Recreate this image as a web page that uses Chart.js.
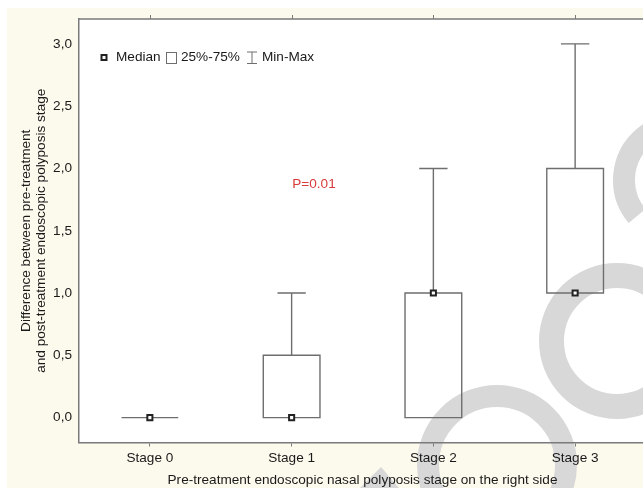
<!DOCTYPE html>
<html>
<head>
<meta charset="utf-8">
<script src="https://cdn.jsdelivr.net/npm/chart.js@4/dist/chart.umd.min.js"></script>
<style>
  html, body { margin: 0; padding: 0; background: #fff; overflow: hidden; }
  #wrap { width: 652px; height: 488px; }
</style>
</head>
<body>
<div id="wrap"><canvas id="chart" width="652" height="488"></canvas></div>
<script>
// ── Data ──
const stageLabels = ["Stage 0", "Stage 1", "Stage 2", "Stage 3"];
const minVals    = [0, 0, 0, 1];
const q1Vals     = [0, 0, 0, 1];
const medianVals = [0, 0, 1, 1];
const q3Vals     = [0, 0.5, 1, 2];
const maxVals    = [0, 1, 2, 3];
const yTicks     = [0, 0.5, 1, 1.5, 2, 2.5, 3];
const pValueText = "P=0.01";

// ── Style ──
const FONT = "'Liberation Sans', Arial, sans-serif";
const FSIZE = 13.6;
const CREAM = "#fcf9ed";
const AXIS = "#7a7a7a";
const BOXLINE = "#6e6e6e";
const TEXT = "#1a1a1a";
const boxHalf = 0.2, capHalf = 0.1;

const boxPlugin = {
  id: "boxes",
  beforeDraw(chart) {
    const { ctx, chartArea: a, width, height } = chart;
    ctx.save();
    ctx.fillStyle = "#fff";
    ctx.fillRect(0, 0, width, height);
    ctx.fillStyle = CREAM;
    ctx.fillRect(7, 8, width - 7, height - 8);
    ctx.fillStyle = "#fff";
    ctx.fillRect(a.left, a.top, a.right - a.left, a.bottom - a.top);

    // watermark shapes (decoration of the source picture)
    ctx.strokeStyle = "#d8d8d8";
    ctx.fillStyle = "#d8d8d8";
    ctx.lineCap = "butt";
    ctx.lineWidth = 25;
    ctx.beginPath(); ctx.arc(617, 341, 65.5, 0, Math.PI * 2); ctx.stroke();
    ctx.lineWidth = 22;
    ctx.beginPath(); ctx.arc(497, 465, 69, 0, Math.PI * 2); ctx.stroke();
    ctx.beginPath(); ctx.arc(680, 180, 56, 140 * Math.PI / 180, 240 * Math.PI / 180); ctx.stroke();
    ctx.beginPath();
    ctx.moveTo(360, 488); ctx.lineTo(381, 467); ctx.lineTo(399, 488); ctx.closePath(); ctx.fill();
    ctx.restore();
  },
  beforeDatasetsDraw(chart) {
    const { ctx, chartArea: a } = chart;
    const xs = chart.scales.x, ys = chart.scales.y;
    ctx.save();
    // top frame with small ticks
    ctx.strokeStyle = AXIS;
    ctx.lineWidth = 1.5;
    ctx.beginPath();
    ctx.moveTo(a.left, a.top); ctx.lineTo(a.right, a.top);
    ctx.stroke();
    ctx.lineWidth = 1;
    stageLabels.forEach((_, i) => {
      const x = Math.round(xs.getPixelForValue(i)) + 0.5;
      ctx.beginPath(); ctx.moveTo(x, a.top); ctx.lineTo(x, a.top - 4); ctx.stroke();
    });

    // boxes and whiskers
    ctx.strokeStyle = BOXLINE;
    ctx.lineWidth = 1.4;
    stageLabels.forEach((_, i) => {
      const cx = xs.getPixelForValue(i);
      const bl = xs.getPixelForValue(i - boxHalf), br = xs.getPixelForValue(i + boxHalf);
      const cl = xs.getPixelForValue(i - capHalf), cr = xs.getPixelForValue(i + capHalf);
      const yMin = ys.getPixelForValue(minVals[i]);
      const yQ1 = ys.getPixelForValue(q1Vals[i]);
      const yQ3 = ys.getPixelForValue(q3Vals[i]);
      const yMax = ys.getPixelForValue(maxVals[i]);
      ctx.beginPath();
      ctx.rect(bl, yQ3, br - bl, yQ1 - yQ3);
      ctx.stroke();
      if (maxVals[i] > q3Vals[i]) {
        ctx.beginPath();
        ctx.moveTo(cx, yQ3); ctx.lineTo(cx, yMax);
        ctx.moveTo(cl, yMax); ctx.lineTo(cr, yMax);
        ctx.stroke();
      }
      if (minVals[i] < q1Vals[i]) {
        ctx.beginPath();
        ctx.moveTo(cx, yQ1); ctx.lineTo(cx, yMin);
        ctx.moveTo(cl, yMin); ctx.lineTo(cr, yMin);
        ctx.stroke();
      }
    });
    ctx.restore();
  },
  afterDraw(chart) {
    const { ctx } = chart;
    ctx.save();
    ctx.font = FSIZE + "px " + FONT;
    ctx.textBaseline = "middle";
    ctx.fillStyle = TEXT;
    const ly = 57.5;
    // legend: median marker
    ctx.strokeStyle = "#222";
    ctx.lineWidth = 2;
    ctx.fillStyle = "#fff";
    ctx.fillRect(101.5, ly - 2.5, 5, 5);
    ctx.strokeRect(101.5, ly - 2.5, 5, 5);
    ctx.fillStyle = TEXT;
    ctx.fillText("Median", 116, ly);
    // legend: box
    ctx.strokeStyle = BOXLINE;
    ctx.lineWidth = 1;
    ctx.strokeRect(166.5, ly - 5, 10, 11);
    ctx.fillText("25%-75%", 181, ly);
    // legend: whisker
    ctx.beginPath();
    ctx.moveTo(247, ly - 5.5); ctx.lineTo(257, ly - 5.5);
    ctx.moveTo(252, ly - 5.5); ctx.lineTo(252, ly + 6);
    ctx.moveTo(247, ly + 6); ctx.lineTo(257, ly + 6);
    ctx.stroke();
    ctx.fillText("Min-Max", 262, ly);
    // p value
    ctx.fillStyle = "#d93a3a";
    ctx.textAlign = "center";
    ctx.fillText(pValueText, 314, 184);
    ctx.restore();
  }
};

new Chart(document.getElementById("chart"), {
  type: "scatter",
  data: {
    datasets: [{
      label: "Median",
      data: medianVals.map((v, i) => ({ x: i, y: v })),
      pointStyle: "rect",
      pointRadius: 3.6,
      pointBorderWidth: 2,
      pointBorderColor: "#222",
      pointBackgroundColor: "#fff"
    }]
  },
  options: {
    responsive: false,
    animation: false,
    layout: { padding: { left: 0, right: 0, top: 19, bottom: 0 } },
    plugins: { legend: { display: false }, tooltip: { enabled: false } },
    scales: {
      x: {
        type: "linear", min: -0.5, max: 3.5,
        afterBuildTicks: s => { s.ticks = stageLabels.map((_, i) => ({ value: i })); },
        afterFit: s => { s.height = 45.5; },
        ticks: { callback: v => stageLabels[v], color: TEXT, font: { size: FSIZE, family: FONT }, padding: 4, maxRotation: 0 },
        grid: { display: true, drawOnChartArea: false, drawTicks: true, tickLength: 4, color: AXIS, lineWidth: 1 },
        border: { display: true, color: AXIS, width: 1.5 },
        title: {
          display: true,
          text: "Pre-treatment endoscopic nasal polyposis stage on the right side",
          color: TEXT, font: { size: FSIZE, family: FONT }, padding: { top: 0, bottom: 0 }
        }
      },
      y: {
        type: "linear", min: -0.2, max: 3.2,
        afterBuildTicks: s => { s.ticks = yTicks.map(v => ({ value: v })); },
        afterFit: s => { s.width = 79; },
        ticks: { callback: v => v.toFixed(1).replace(".", ","), color: TEXT, font: { size: FSIZE, family: FONT }, padding: 7 },
        grid: { display: false, drawTicks: false },
        border: { display: true, color: AXIS, width: 1.5 },
        title: {
          display: true,
          text: ["Difference between pre-treatment", "and post-treatment endoscopic polyposis stage"],
          color: TEXT, font: { size: FSIZE, family: FONT, lineHeight: 1.1 }, padding: { top: 19, bottom: 0 }
        }
      }
    }
  },
  plugins: [boxPlugin]
});
</script>
</body>
</html>
